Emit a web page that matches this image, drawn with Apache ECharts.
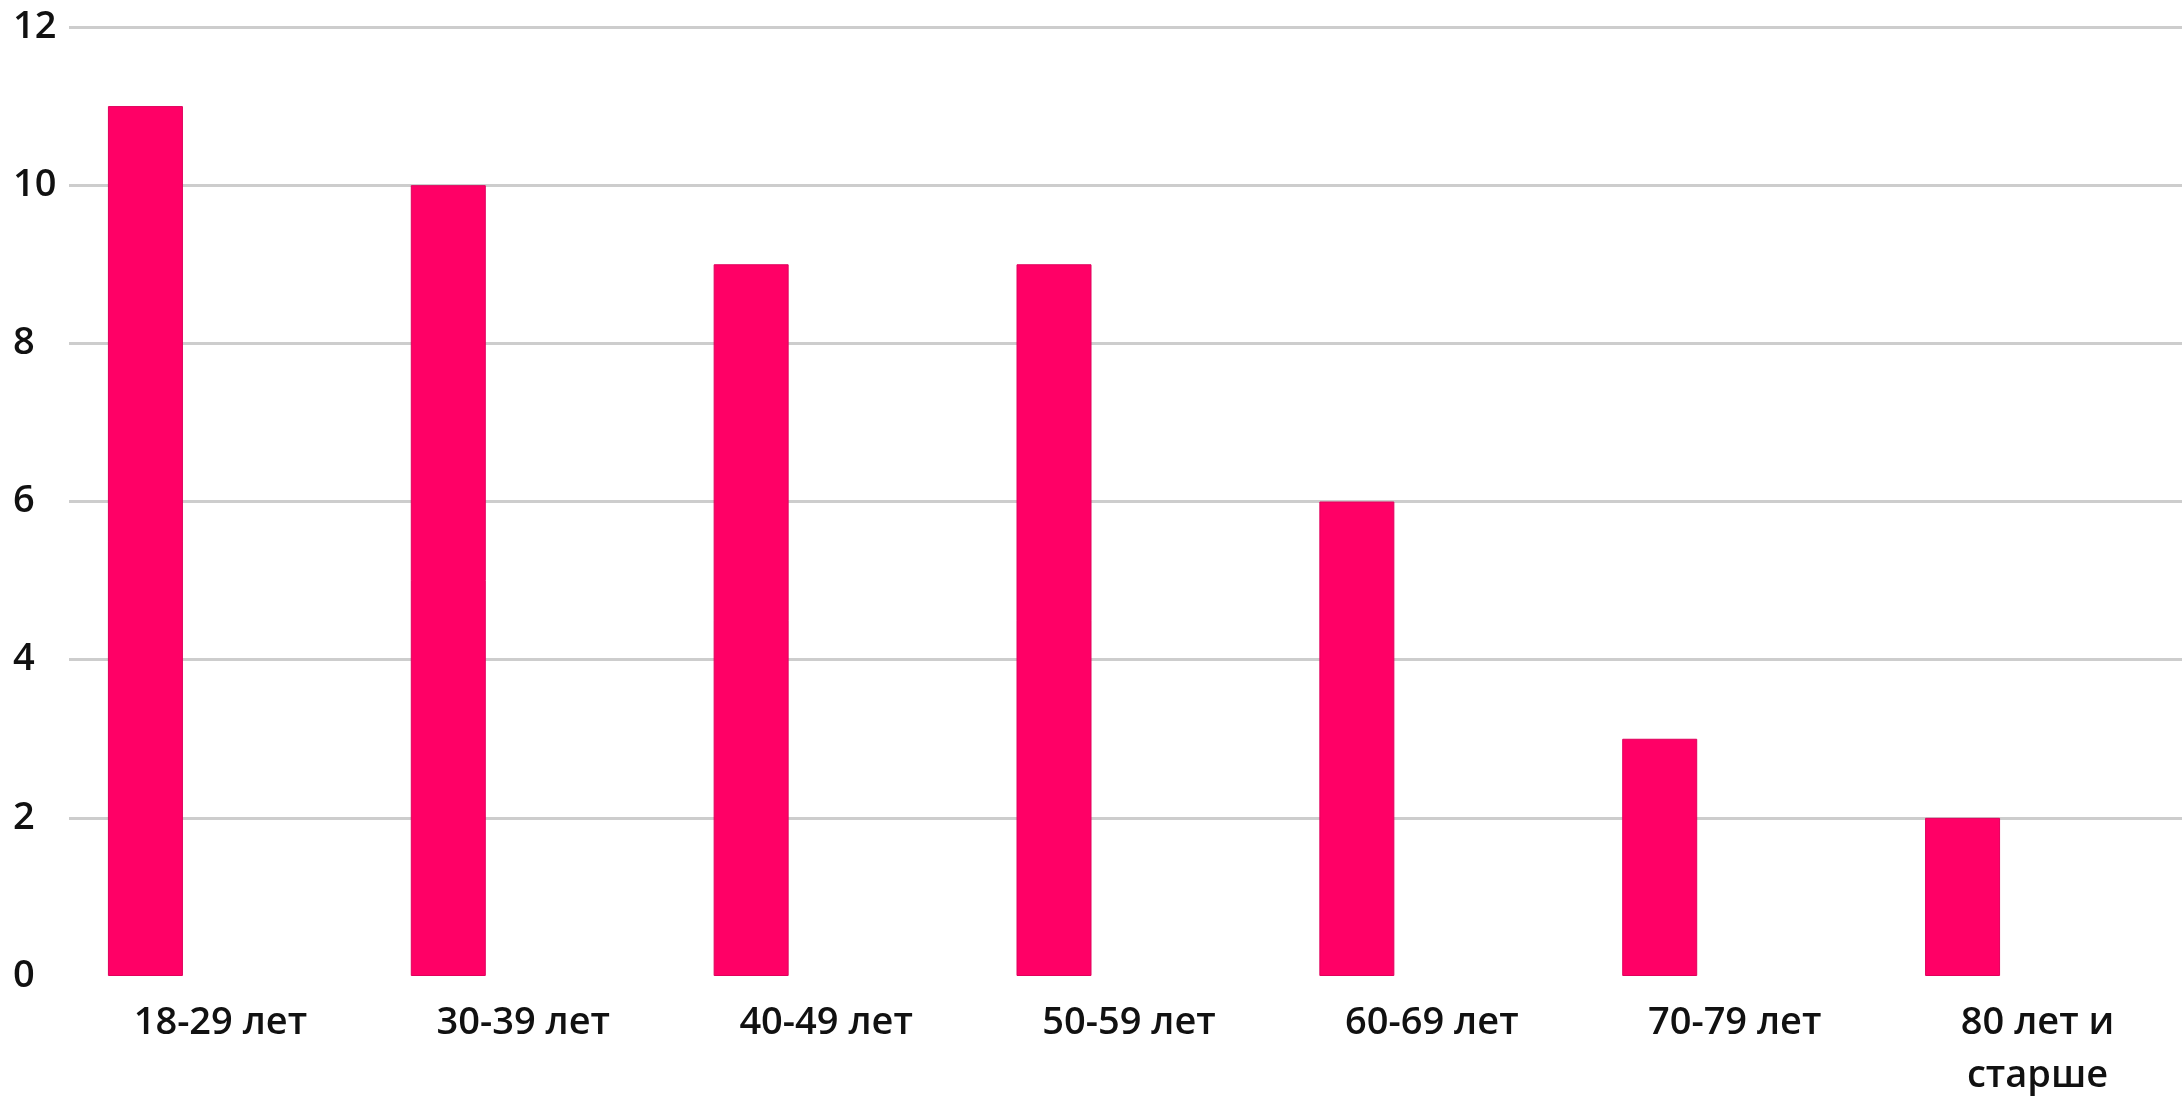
<!DOCTYPE html>
<html>
<head>
<meta charset="utf-8">
<script src="https://cdn.jsdelivr.net/npm/echarts@6/dist/echarts.min.js"></script>
<style>html,body{margin:0;padding:0;background:#fff;}#c{width:2182px;height:1102px;}</style>
</head>
<body>
<div id="c"></div>
<script>
const categories = ['18-29 лет', '30-39 лет', '40-49 лет', '50-59 лет', '60-69 лет', '70-79 лет', '80 лет и\nстарше'];
const values = [11, 10, 9, 9, 6, 3, 2];
const emptyA = [];
const emptyB = [];
const yTicks = { min: 0, max: 12, interval: 2 };

const chart = echarts.init(document.getElementById('c'));
const font = '"Open Sans", "DejaVu Sans", sans-serif';
chart.setOption({
  animation: false,
  backgroundColor: '#ffffff',
  grid: { left: 69, width: 2120, top: 27, bottom: 126, containLabel: false, outerBoundsMode: 'none' },
  xAxis: {
    type: 'category',
    data: categories,
    axisLine: { show: false },
    axisTick: { show: false },
    axisLabel: { interval: 0, margin: 21, fontFamily: font, fontSize: 38, fontWeight: 600, color: '#111111', lineHeight: 53 }
  },
  yAxis: {
    type: 'value',
    min: yTicks.min, max: yTicks.max, interval: yTicks.interval,
    axisLine: { show: false },
    axisTick: { show: false },
    axisLabel: { align: 'left', margin: 56, fontFamily: font, fontSize: 38, fontWeight: 600, color: '#111111' },
    splitLine: { lineStyle: { width: 3, color: ['rgba(0,0,0,0)', '#cdcdcd', '#cdcdcd', '#cdcdcd', '#cdcdcd', '#cdcdcd', '#cdcdcd'] } }
  },
  series: [
    { type: 'bar', data: values, barWidth: 75, barGap: '0%', itemStyle: { color: '#ff0066', borderColor: '#e0005c', borderWidth: 1 } },
    { type: 'bar', data: emptyA, barWidth: 75, barGap: '0%' },
    { type: 'bar', data: emptyB, barWidth: 75, barGap: '0%' }
  ]
});
</script>
</body>
</html>
